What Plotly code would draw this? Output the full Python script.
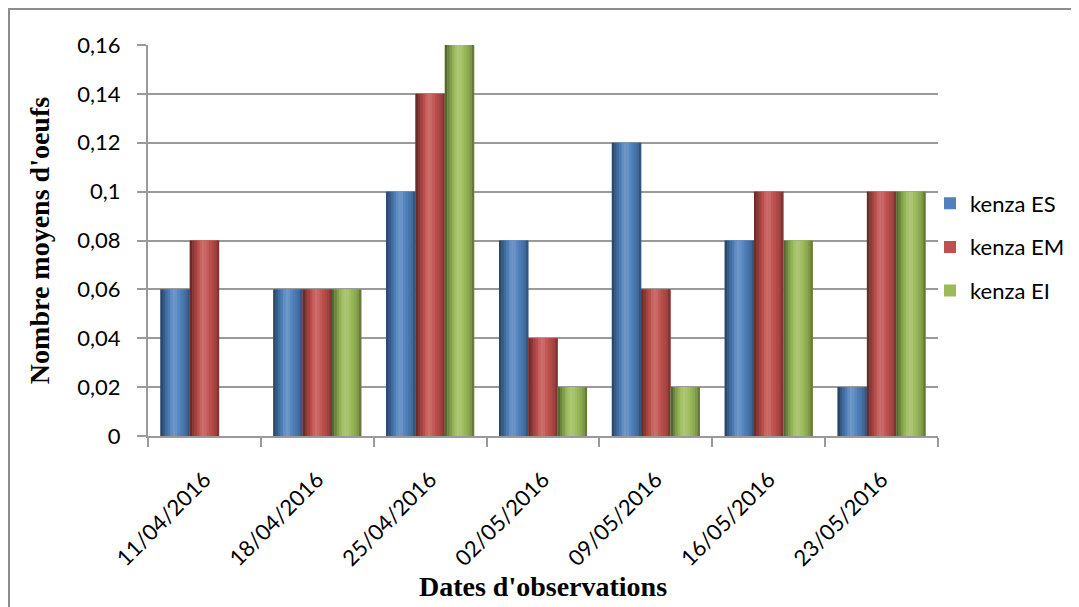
import plotly.graph_objects as go

dates = ["11/04/2016", "18/04/2016", "25/04/2016", "02/05/2016",
         "09/05/2016", "16/05/2016", "23/05/2016"]
kenza_ES = [0.06, 0.06, 0.10, 0.08, 0.12, 0.08, 0.02]
kenza_EM = [0.08, 0.06, 0.14, 0.04, 0.06, 0.10, 0.10]
kenza_EI = [0.00, 0.06, 0.16, 0.02, 0.02, 0.08, 0.10]
series_names = ["kenza ES", "kenza EM", "kenza EI"]
y_ticks = [0, 0.02, 0.04, 0.06, 0.08, 0.10, 0.12, 0.14, 0.16]
y_ticktext = ["0", "0,02", "0,04", "0,06", "0,08", "0,1", "0,12", "0,14", "0,16"]

series = [kenza_ES, kenza_EM, kenza_EI]
colors = ["#4F81BD", "#C0504D", "#9BBB59"]

# page body has an 8px margin: figure occupies page pixels 8..1079 x 8..607
OFF = 8
W, H = 1079 - OFF, 607 - OFF
ML, MR, MT, MB = 148 - OFF, 1079 - 938, 45 - OFF, 607 - 436
PW, PH = W - ML - MR, H - MT - MB

x_idx = list(range(len(dates)))
BAR_W = 0.26
# cylinder shading profile across the bar width (<1 darker, >1 lighter)
profile = [0.55, 0.70, 0.84, 0.96, 1.10, 1.18, 1.14, 1.05, 0.97, 0.90, 0.82, 0.66]


def shade(hex_color, f):
    r, g, b = (int(hex_color[i:i + 2], 16) for i in (1, 3, 5))
    if f <= 1:
        r, g, b = r * f, g * f, b * f
    else:
        t = f - 1
        r, g, b = r + (255 - r) * t, g + (255 - g) * t, b + (255 - b) * t
    return "rgb(%d,%d,%d)" % (round(r), round(g), round(b))


fig = go.Figure()
n = len(profile)
for k, (name, vals, col) in enumerate(zip(series_names, series, colors)):
    center = (k - 1) * BAR_W
    fig.add_trace(go.Bar(
        x=x_idx, y=vals, name=name, legendgroup=name,
        width=BAR_W, offset=center - BAR_W / 2,
        marker=dict(color=col, line=dict(width=0)),
        hoverinfo="skip",
    ))
    sw = BAR_W / n
    for j, f in enumerate(profile):
        fig.add_trace(go.Bar(
            x=x_idx, y=vals, name=name, legendgroup=name, showlegend=False,
            width=sw * 1.02, offset=center - BAR_W / 2 + j * sw,
            marker=dict(color=shade(col, f), line=dict(width=0)),
            hovertemplate=name + ": %{y}<extra></extra>",
        ))

# page-pixel -> paper coordinate helpers
px2x = lambda px: (px - 148) / PW
py2y = lambda py: (436 - py) / PH
fig.add_shape(type="rect", xref="paper", yref="paper",
              x0=px2x(9), x1=px2x(1095), y0=py2y(625), y1=py2y(9),
              line=dict(color="#8C8C8C", width=2), fillcolor="rgba(0,0,0,0)",
              layer="below")

tick_font = dict(family="Lato, 'Open Sans', sans-serif", size=22, color="#000000")
title_font = dict(family="'Liberation Serif', 'Times New Roman', serif", size=28,
                  color="#000000")

fig.update_layout(
    width=W, height=H,
    margin=dict(l=ML, r=MR, t=MT, b=MB, autoexpand=False),
    paper_bgcolor="white", plot_bgcolor="white",
    barmode="overlay",
    showlegend=True,
    legend=dict(x=px2x(930), xanchor="left", y=py2y(247), yanchor="middle",
                traceorder="grouped", tracegroupgap=12,
                font=tick_font, bgcolor="rgba(0,0,0,0)"),
    xaxis=dict(
        range=[-0.5, len(dates) - 0.5],
        tickmode="array", tickvals=x_idx, ticktext=dates,
        tickangle=-45, ticks="", tickfont=tick_font,
        ticklabelstandoff=20,
        showline=True, linecolor="#9A9A9A", linewidth=2,
        showgrid=False, zeroline=False,
        minor=dict(tickmode="array",
                   tickvals=[i - 0.5 for i in range(len(dates) + 1)],
                   ticks="outside", ticklen=9, tickwidth=2, tickcolor="#9A9A9A",
                   showgrid=False),
        title=dict(text="<b>Dates d'observations</b>", font=title_font, standoff=2),
    ),
    yaxis=dict(
        range=[0, 0.16],
        tickmode="array", tickvals=y_ticks, ticktext=y_ticktext,
        ticks="outside", ticklen=9, tickwidth=2, tickcolor="#9A9A9A",
        tickfont=tick_font, ticklabelstandoff=12,
        showline=True, linecolor="#9A9A9A", linewidth=2,
        showgrid=True, gridcolor="#9A9A9A", gridwidth=2,
        zeroline=False,
        title=dict(text="<b>Nombre moyens d'oeufs</b>", font=title_font, standoff=20),
    ),
)

fig.write_html("out.html")
